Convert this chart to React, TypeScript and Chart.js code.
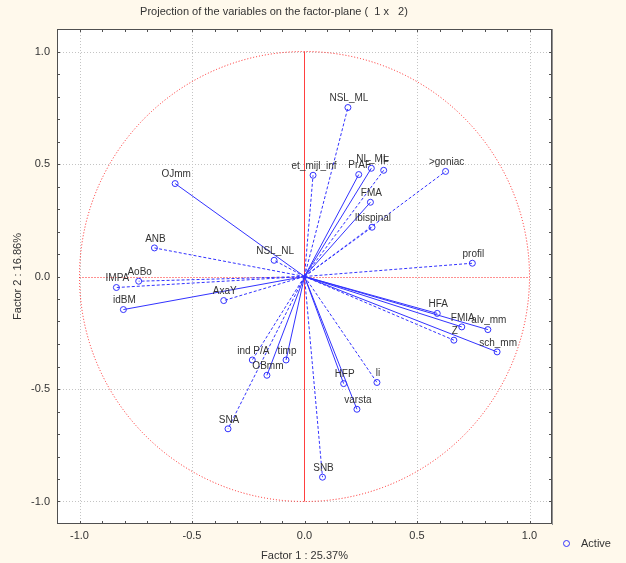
import React, { useEffect, useRef } from "react";
import { Chart, registerables } from "chart.js";
Chart.register(...registerables);

const chartTitle = "Projection of the variables on the factor-plane (  1 x   2)";
const xTitle = "Factor 1 : 25.37%";
const yTitle = "Factor 2 : 16.86%";
const legendLabel = "Active";

const names = [
  "NSL_ML", "et_mijl_inf", "PrAF", "NL_ML", "IF", ">goniac", "FMA", "lbispinal", "profil",
  "OJmm", "ANB", "NSL_NL", "AoBo", "IMPA", "idBM", "AxaY",
  "HFA", "FMIA", "alv_mm", "Z", "sch_mm",
  "ind P/A", "timp", "OBmm", "SNA", "HFP", "li", "varsta", "SNB",
];
const factor1 = [
  0.193, 0.038, 0.241, 0.297, 0.352, 0.627, 0.293, 0.300, 0.746,
  -0.575, -0.667, -0.135, -0.737, -0.836, -0.805, -0.359,
  0.590, 0.699, 0.815, 0.664, 0.856,
  -0.232, -0.082, -0.167, -0.340, 0.174, 0.322, 0.233, 0.080,
];
const factor2 = [
  0.751, 0.450, 0.453, 0.481, 0.472, 0.467, 0.330, 0.219, 0.059,
  0.413, 0.127, 0.072, -0.021, -0.049, -0.147, -0.107,
  -0.164, -0.224, -0.236, -0.283, -0.335,
  -0.371, -0.371, -0.439, -0.677, -0.476, -0.471, -0.590, -0.892,
];
const dashed = [
  true, true, false, false, true, true, false, true, true,
  false, true, true, true, true, false, true,
  false, false, false, true, false,
  true, false, false, true, false, true, false, true,
];
const labelTicks = [-1, -0.5, 0, 0.5, 1];
const minorTicks = [-1, -0.9, -0.8, -0.7, -0.6, -0.5, -0.4, -0.3, -0.2, -0.1, 0, 0.1, 0.2, 0.3, 0.4, 0.5, 0.6, 0.7, 0.8, 0.9, 1];
const gridValues = [-1, -0.5, 0.5, 1];

const BLUE = "#3232ff";
const PAGE_BG = "#fff9ec";
const TEXT = "#333333";
const FONT = "Liberation Sans, Arial, sans-serif";

export default function App() {
  const ref = useRef<HTMLCanvasElement | null>(null);

  useEffect(() => {
    document.body.style.margin = "0";
    document.body.style.background = PAGE_BG;
    const canvas = ref.current!;

    const lineSets = names.map((n, i) => ({
      type: "line" as const,
      label: n,
      data: [{ x: 0, y: 0 }, { x: factor1[i], y: factor2[i] }],
      borderColor: BLUE,
      borderWidth: 1,
      borderDash: dashed[i] ? [3, 2] : [],
      pointRadius: 0,
      fill: false,
      showLine: true,
    }));

    const pointSet = {
      type: "scatter" as const,
      label: legendLabel,
      data: names.map((_, i) => ({ x: factor1[i], y: factor2[i] })),
      pointRadius: 3,
      pointBorderWidth: 1,
      borderColor: BLUE,
      backgroundColor: "rgba(0,0,0,0)",
      pointBackgroundColor: "rgba(255,255,255,0)",
      pointBorderColor: BLUE,
      showLine: false,
    };

    const decor = {
      id: "decor",
      beforeDraw(chart: any) {
        const { ctx, chartArea: a, scales } = chart;
        const xs = scales.x, ys = scales.y;
        ctx.save();
        ctx.fillStyle = PAGE_BG;
        ctx.fillRect(0, 0, chart.width, chart.height);
        ctx.fillStyle = "#ffffff";
        ctx.fillRect(a.left, a.top, a.right - a.left, a.bottom - a.top);
        // grid
        ctx.strokeStyle = "#c4c4c4";
        ctx.lineWidth = 1;
        ctx.setLineDash([1, 2]);
        gridValues.forEach((v) => {
          const px = Math.round(xs.getPixelForValue(v)) + 0.5;
          ctx.beginPath(); ctx.moveTo(px, a.top); ctx.lineTo(px, a.bottom); ctx.stroke();
          const py = Math.round(ys.getPixelForValue(v)) + 0.5;
          ctx.beginPath(); ctx.moveTo(a.left, py); ctx.lineTo(a.right, py); ctx.stroke();
        });
        // unit circle
        const cx = xs.getPixelForValue(0), cy = ys.getPixelForValue(0);
        const rx = xs.getPixelForValue(1) - cx, ry = cy - ys.getPixelForValue(1);
        ctx.strokeStyle = "#ff2020";
        ctx.setLineDash([1, 2]);
        ctx.beginPath(); ctx.ellipse(cx, cy, rx, ry, 0, 0, Math.PI * 2); ctx.stroke();
        // axes through origin
        ctx.beginPath();
        ctx.moveTo(xs.getPixelForValue(-1), Math.round(cy) + 0.5);
        ctx.lineTo(xs.getPixelForValue(1), Math.round(cy) + 0.5);
        ctx.stroke();
        ctx.setLineDash([]);
        ctx.strokeStyle = "#ff4040";
        ctx.beginPath();
        ctx.moveTo(Math.round(cx) - 0.5, ys.getPixelForValue(1));
        ctx.lineTo(Math.round(cx) - 0.5, ys.getPixelForValue(-1));
        ctx.stroke();
        ctx.restore();
      },
      afterDatasetsDraw(chart: any) {
        const { ctx, scales } = chart;
        ctx.save();
        ctx.font = `10px ${FONT}`;
        ctx.fillStyle = TEXT;
        ctx.textAlign = "center";
        ctx.textBaseline = "middle";
        names.forEach((n, i) => {
          const px = scales.x.getPixelForValue(factor1[i]);
          const py = scales.y.getPixelForValue(factor2[i]);
          ctx.fillText(n, px + 1, py - 9);
        });
        ctx.restore();
      },
      afterDraw(chart: any) {
        const { ctx, chartArea: a, scales } = chart;
        ctx.save();
        // frame
        ctx.lineWidth = 1;
        ctx.strokeStyle = "#505050";
        ctx.strokeRect(Math.round(a.left) + 0.5, Math.round(a.top) + 0.5, Math.round(a.right - a.left) - 1, Math.round(a.bottom - a.top) - 1);
        ctx.strokeStyle = "#909090";
        ctx.beginPath();
        ctx.moveTo(Math.round(a.right) + 0.5, a.top);
        ctx.lineTo(Math.round(a.right) + 0.5, a.bottom + 1);
        ctx.stroke();
        // inner ticks
        ctx.strokeStyle = "#505050";
        minorTicks.forEach((v) => {
          const px = Math.round(scales.x.getPixelForValue(v)) + 0.5;
          ctx.beginPath();
          ctx.moveTo(px, a.top); ctx.lineTo(px, a.top + 3);
          ctx.moveTo(px, a.bottom); ctx.lineTo(px, a.bottom - 3);
          ctx.stroke();
          const py = Math.round(scales.y.getPixelForValue(v)) + 0.5;
          ctx.beginPath();
          ctx.moveTo(a.left, py); ctx.lineTo(a.left + 3, py);
          ctx.moveTo(a.right, py); ctx.lineTo(a.right - 3, py);
          ctx.stroke();
        });
        // title
        ctx.fillStyle = TEXT;
        ctx.font = `11px ${FONT}`;
        ctx.textAlign = "center";
        ctx.textBaseline = "middle";
        ctx.fillText(chartTitle, 274, 12);
        // legend
        ctx.strokeStyle = BLUE;
        ctx.beginPath();
        ctx.arc(566.5, 543.5, 3, 0, Math.PI * 2);
        ctx.stroke();
        ctx.textAlign = "left";
        ctx.fillText(legendLabel, 581, 544);
        ctx.restore();
      },
    };

    const tickCfg = {
      font: { family: FONT, size: 11 },
      color: TEXT,
      callback: (v: any) => Number(v).toFixed(1),
    };

    const chart = new Chart(canvas, {
      data: { datasets: [...lineSets, pointSet] as any },
      options: {
        responsive: false,
        animation: false,
        devicePixelRatio: 1,
        layout: { padding: { top: 29, right: 74, left: 0, bottom: 0 } },
        plugins: { legend: { display: false }, title: { display: false }, tooltip: { enabled: false } },
        scales: {
          x: {
            type: "linear",
            min: -1.1,
            max: 1.1,
            grid: { display: false, drawTicks: false },
            border: { display: false },
            ticks: { ...tickCfg, padding: 5, maxRotation: 0 },
            afterBuildTicks: (s: any) => { s.ticks = labelTicks.map((v) => ({ value: v })); },
            afterFit: (s: any) => { s.height = 39; },
            title: { display: true, text: xTitle, color: TEXT, font: { family: FONT, size: 11 }, padding: { top: 3, bottom: 0 } },
          },
          y: {
            type: "linear",
            min: -1.1,
            max: 1.1,
            grid: { display: false, drawTicks: false },
            border: { display: false },
            ticks: { ...tickCfg, padding: 7 },
            afterBuildTicks: (s: any) => { s.ticks = labelTicks.map((v) => ({ value: v })); },
            afterFit: (s: any) => { s.width = 57; },
            title: { display: true, text: yTitle, color: TEXT, font: { family: FONT, size: 11 }, padding: { top: 11, bottom: 0 } },
          },
        },
      } as any,
      plugins: [decor],
    });
    return () => chart.destroy();
  }, []);

  return (
    <div style={{ width: 626, height: 563, background: PAGE_BG }}>
      <canvas ref={ref} width={626} height={563} style={{ display: "block" }} />
    </div>
  );
}
